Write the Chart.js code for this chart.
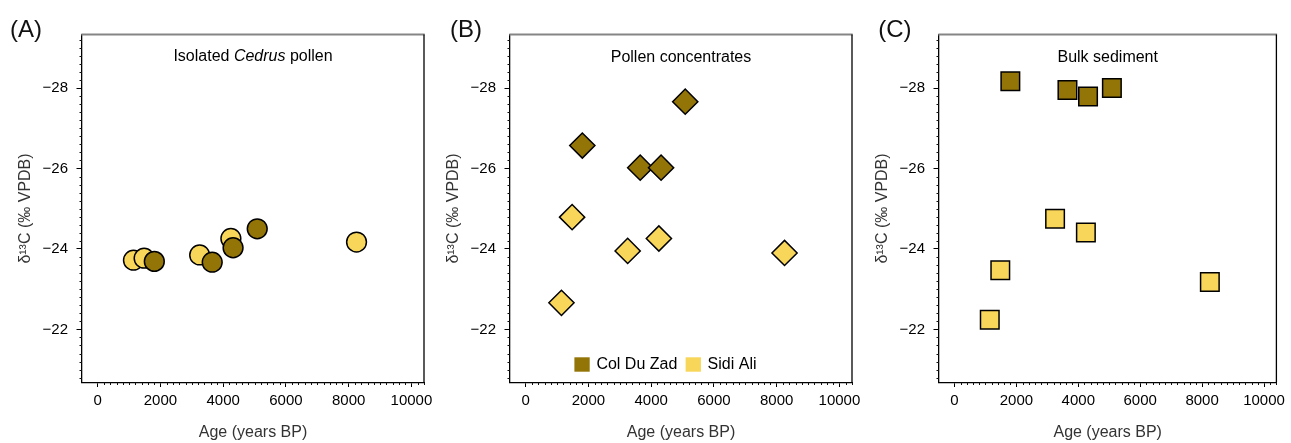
<!DOCTYPE html>
<html>
<head>
<meta charset="utf-8">
<script src="https://cdn.jsdelivr.net/npm/chart.js@4.4.1/dist/chart.umd.min.js"></script>
<style>
html,body{margin:0;padding:0;background:#fff;}
#wrap{position:relative;width:1291px;height:443px;overflow:hidden;background:#fff;}
canvas{position:absolute;top:0;}
</style>
</head>
<body>
<div id="wrap">
  <canvas id="cA" width="440" height="443" style="left:0px"></canvas>
  <canvas id="cB" width="440" height="443" style="left:428px"></canvas>
  <canvas id="cC" width="434" height="443" style="left:857px"></canvas>
</div>
<script>
// ---------- data ----------
const seriesNames = ['Col Du Zad', 'Sidi Ali'];
const colDuZadAge = [1805, 3650, 4315, 5085];
const sidiAliAge  = [1140, 1480, 3250, 4245, 8250];

const pollenColDuZad = [-23.69, -23.67, -24.03, -24.50];
const pollenSidiAli  = [-23.72, -23.77, -23.85, -24.26, -24.17];

const concColDuZad = [-26.57, -26.02, -26.02, -27.66];
const concSidiAli  = [-22.66, -24.79, -23.95, -24.26, -23.90];

const bulkColDuZad = [-28.17, -27.95, -27.79, -28.00];
const bulkSidiAli  = [-22.24, -23.47, -24.75, -24.41, -23.18];

const xTicks = [0, 2000, 4000, 6000, 8000, 10000];
const yTicks = [-28, -26, -24, -22];
const panelLabels = ['(A)', '(B)', '(C)'];
const xTitle = 'Age (years BP)';
const yTitle = 'δ¹³C (‰ VPDB)';

// ---------- style ----------
const FONT = "'Liberation Sans', Arial, Helvetica, sans-serif";
Chart.defaults.font.family = FONT;
const DARK = '#937407';
const YELLOW = '#F8D65A';
const X_MIN = -500, X_MAX = 10400;
const Y_MIN = -29.33, Y_MAX = -20.68;
const X_MINOR = 200, Y_MINOR = 0.2;

const decor = {
  id: 'decor',
  afterDraw(chart, args, o) {
    const {ctx, chartArea: ca, scales} = chart;
    const xs = scales.x, ys = scales.y;
    ctx.save();
    // minor ticks
    ctx.strokeStyle = '#111';
    ctx.lineWidth = 1;
    ctx.beginPath();
    for (let k = 0; k * X_MINOR <= X_MAX; k++) {
      const v = k * X_MINOR;
      if (xTicks.includes(v)) continue;
      const px = Math.round(xs.getPixelForValue(v)) + 0.5;
      ctx.moveTo(px, ca.bottom); ctx.lineTo(px, ca.bottom + 2.5);
    }
    for (let k = Math.ceil(Y_MIN / Y_MINOR); k * Y_MINOR <= Y_MAX; k++) {
      const v = k * Y_MINOR;
      if (Math.abs(v - Math.round(v)) < 1e-6 && yTicks.includes(Math.round(v))) continue;
      const py = Math.round(ys.getPixelForValue(v)) + 0.5;
      ctx.moveTo(ca.left - 2.5, py); ctx.lineTo(ca.left, py);
    }
    ctx.stroke();
    // top (grey) and right (black) frame
    ctx.strokeStyle = '#858585';
    ctx.lineWidth = 2;
    ctx.beginPath();
    ctx.moveTo(ca.left - 0.7, ca.top); ctx.lineTo(ca.right + 0.7, ca.top);
    ctx.stroke();
    ctx.strokeStyle = '#000';
    ctx.lineWidth = 1.3;
    ctx.beginPath();
    ctx.moveTo(ca.right, ca.top); ctx.lineTo(ca.right, ca.bottom);
    ctx.stroke();
    // panel title with mixed italic
    ctx.fillStyle = '#000';
    ctx.textBaseline = 'alphabetic';
    ctx.textAlign = 'left';
    let total = 0;
    const widths = o.title.map(p => {
      ctx.font = (p.italic ? 'italic ' : '') + '16px ' + FONT;
      const w = ctx.measureText(p.text).width; total += w; return w;
    });
    let tx = (ca.left + ca.right) / 2 - total / 2;
    o.title.forEach((p, i) => {
      ctx.font = (p.italic ? 'italic ' : '') + '16px ' + FONT;
      ctx.fillText(p.text, tx, o.titleY);
      tx += widths[i];
    });
    // panel label
    ctx.font = '24px ' + FONT;
    ctx.fillStyle = '#111';
    ctx.fillText(o.label, o.labelX, 37);
    // legend
    if (o.legend) {
      ctx.font = '16px ' + FONT;
      ctx.fillStyle = '#000';
      let lx = ca.left + 64.4;
      const ly = 364.5;
      const colors = [DARK, YELLOW];
      seriesNames.forEach((name, i) => {
        ctx.fillStyle = colors[i];
        ctx.fillRect(lx, ly - 7.2, 15.3, 14.4);
        ctx.fillStyle = '#000';
        ctx.textBaseline = 'middle';
        ctx.fillText(name, lx + 22, ly + 0.5);
        lx += 22 + ctx.measureText(name).width + 8.3;
      });
    }
    ctx.restore();
  }
};

function makePanel(id, colVals, sidiVals, pointStyle, radius, label, labelX, title, titleY, legend) {
  const canvas = document.getElementById(id);
  const W = canvas.width;
  const toPts = (ages, vals) => ages.map((a, i) => ({x: a, y: vals[i]}));
  return new Chart(canvas, {
    type: 'scatter',
    data: {
      datasets: [
        {label: seriesNames[0], data: toPts(colDuZadAge, colVals), backgroundColor: DARK,
         borderColor: '#000', borderWidth: 1.5, pointStyle, pointRadius: radius},
        {label: seriesNames[1], data: toPts(sidiAliAge, sidiVals), backgroundColor: YELLOW,
         borderColor: '#000', borderWidth: 1.5, pointStyle, pointRadius: radius}
      ]
    },
    options: {
      responsive: false,
      animation: false,
      events: [],
      layout: {padding: {left: 0, right: W - 424, top: 34.5, bottom: 0}},
      plugins: {
        legend: {display: false},
        tooltip: {enabled: false},
        decor: {label, labelX, title, titleY, legend}
      },
      scales: {
        x: {
          type: 'linear', min: X_MIN, max: X_MAX,
          afterBuildTicks: s => { s.ticks = xTicks.map(v => ({value: v})); },
          afterFit: s => { s.height = 60.5; },
          grid: {drawOnChartArea: false, tickLength: 4.5, tickColor: '#000', tickWidth: 1},
          border: {display: true, color: '#000', width: 1.3},
          ticks: {color: '#000', font: {size: 15}, padding: 5, maxRotation: 0,
                  callback: v => String(v)},
          title: {display: true, text: xTitle, color: '#333', font: {size: 16}, padding: {top: 0, bottom: 1}}
        },
        y: {
          type: 'linear', min: Y_MIN, max: Y_MAX, reverse: true,
          afterBuildTicks: s => { s.ticks = yTicks.map(v => ({value: v})); },
          afterFit: s => { s.width = 82; },
          grid: {drawOnChartArea: false, tickLength: 5.5, tickColor: '#000', tickWidth: 1},
          border: {display: true, color: '#000', width: 1.3},
          ticks: {color: '#000', font: {size: 15}, padding: 8.5,
                  callback: v => '\u2212' + Math.abs(v)},
          title: {display: true, text: yTitle, color: '#333', font: {size: 16}, padding: {top: 15.6, bottom: 0}}
        }
      }
    },
    plugins: [decor]
  });
}

makePanel('cA', pollenColDuZad, pollenSidiAli, 'circle', 9.9, panelLabels[0], 10,
  [{text: 'Isolated '}, {text: 'Cedrus', italic: true}, {text: ' pollen'}], 60.5, false);
makePanel('cB', concColDuZad, concSidiAli, 'rectRot', 12.6, panelLabels[1], 22,
  [{text: 'Pollen concentrates'}], 61.5, true);
makePanel('cC', bulkColDuZad, bulkSidiAli, 'rect', 13.1, panelLabels[2], 21.3,
  [{text: 'Bulk sediment'}], 61.5, false);
</script>
</body>
</html>
